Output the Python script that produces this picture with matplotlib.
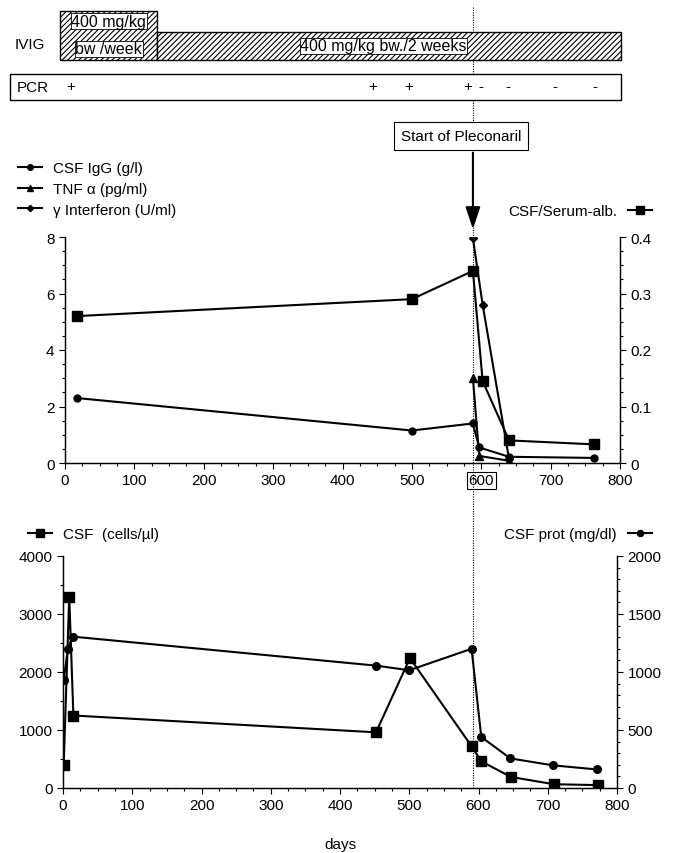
import matplotlib
matplotlib.use('Agg')
import matplotlib.pyplot as plt
from matplotlib.patches import Rectangle, FancyArrowPatch
from matplotlib.lines import Line2D
from matplotlib.ticker import MultipleLocator

plt.rcParams['font.family'] = ['Liberation Sans', 'DejaVu Sans']
plt.rcParams['hatch.linewidth'] = 0.8
plt.rcParams['axes.linewidth'] = 0.9

# ---------------- data ----------------
igg_days = [17, 500, 588, 597, 640, 762]
igg_vals = [2.3, 1.15, 1.4, 0.55, 0.22, 0.18]
tnf_days = [588, 597, 640]
tnf_vals = [3.0, 0.25, 0.08]
ifn_days = [588, 602, 640]
ifn_vals = [7.95, 5.6, 0.15]
alb_days = [17, 500, 588, 602, 640, 762]
alb_vals = [0.26, 0.29, 0.34, 0.145, 0.04, 0.033]

cells_days = [1, 9, 15, 452, 501, 590, 604, 647, 709, 772]
cells_vals = [400, 3300, 1250, 960, 2240, 720, 460, 190, 65, 50]
prot_days = [1, 7, 14, 452, 500, 590, 604, 646, 708, 771]
prot_vals = [930, 1200, 1305, 1055, 1015, 1200, 440, 255, 195, 160]

pcr_days = [8, 443, 495, 580, 600, 638, 706, 764]
pcr_signs = ['+', '+', '+', '+', '-', '-', '-', '-']

ivig_weekly = [-7, 133]
ivig_biweekly = [133, 802]
pleconaril_day = 588

xticks = list(range(0, 801, 100))
xticklabels = [str(v) for v in xticks]

W, H = 673, 854
fig = plt.figure(figsize=(W / 100, H / 100), dpi=100)


def box(l, t, r, b):
    return [l / W, 1 - b / H, (r - l) / W, (b - t) / H]


def fx(px):
    return px / W


def fy(py):
    return 1 - py / H


FS = 11

# ---------------- header (IVIG / PCR) ----------------
ax0 = fig.add_axes(box(65, 0, 620, 110), zorder=3)
ax0.set_xlim(0, 800)
ax0.set_ylim(110, 0)
ax0.axis('off')
ax0.patch.set_alpha(0)

ax0.add_patch(Rectangle((ivig_weekly[0], 12), ivig_weekly[1] - ivig_weekly[0], 49,
                        facecolor='white', edgecolor='black', hatch='//////', lw=1.0, clip_on=False))
ax0.add_patch(Rectangle((ivig_biweekly[0], 33), ivig_biweekly[1] - ivig_biweekly[0], 28,
                        facecolor='white', edgecolor='black', hatch='//////', lw=1.0, clip_on=False))
tb = dict(facecolor='white', edgecolor='black', lw=0.6, pad=0.5)
mid_w = (ivig_weekly[0] + ivig_weekly[1]) / 2
ax0.text(mid_w, 22, '400 mg/kg', ha='center', va='center', fontsize=FS + 0.5, bbox=tb, clip_on=False)
ax0.text(mid_w, 50, 'bw /week', ha='center', va='center', fontsize=FS + 0.5, bbox=tb, clip_on=False)
ax0.text(459, 47, '400 mg/kg bw./2 weeks', ha='center', va='center', fontsize=FS + 0.5, bbox=tb)
ax0.text(-50, 45, 'IVIG', ha='center', va='center', fontsize=FS, clip_on=False)

ax0.add_patch(Rectangle((-80, 75), 882, 26, facecolor='white', edgecolor='black', lw=1.0,
                        clip_on=False))
ax0.text(-47, 88, 'PCR', ha='center', va='center', fontsize=FS, clip_on=False)
for d, s in zip(pcr_days, pcr_signs):
    ax0.text(d, 87, s, ha='center', va='center', fontsize=FS)

# ---------------- top chart ----------------
ax1 = fig.add_axes(box(65, 238, 620, 464))
ax1.set_xlim(0, 800)
ax1.set_ylim(0, 8)
l_igg, = ax1.plot(igg_days, igg_vals, '-o', color='black', lw=1.5, ms=5, label='CSF IgG (g/l)')
l_tnf, = ax1.plot(tnf_days, tnf_vals, '-^', color='black', lw=1.5, ms=5.5, label='TNF \u03b1 (pg/ml)')
l_ifn, = ax1.plot(ifn_days, ifn_vals, '-D', color='black', lw=1.5, ms=4, label='\u03b3 Interferon (U/ml)')
ax1r = ax1.twinx()
ax1r.set_ylim(0, 0.4)
l_alb, = ax1r.plot(alb_days, alb_vals, '-s', color='black', lw=1.5, ms=7, label='CSF/Serum-alb.')

ax1.set_xticks(xticks)
labs = ax1.set_xticklabels(xticklabels)
labs[6].set_bbox(dict(facecolor='none', edgecolor='black', lw=0.8, pad=1.0))
ax1.xaxis.set_minor_locator(MultipleLocator(25))
ax1.yaxis.set_major_locator(MultipleLocator(2))
ax1.yaxis.set_minor_locator(MultipleLocator(0.5))
ax1r.set_yticks([0, 0.1, 0.2, 0.3, 0.4])
ax1r.set_yticklabels(['0', '0.1', '0.2', '0.3', '0.4'])
ax1r.yaxis.set_minor_locator(MultipleLocator(0.025))
for a in (ax1, ax1r):
    a.spines['top'].set_visible(False)
    a.tick_params(which='major', direction='out', length=4, width=0.8, labelsize=FS)
    a.tick_params(which='minor', direction='out', length=2.5, width=0.8)

leg1 = ax1.legend(handles=[l_igg, l_tnf, l_ifn], loc='upper left',
                  bbox_to_anchor=(fx(18), fy(162)), bbox_transform=fig.transFigure,
                  frameon=False, fontsize=FS, handlelength=1.6, handletextpad=0.7,
                  labelspacing=0.45, borderpad=0, borderaxespad=0, markerscale=0.8)
leg2 = ax1r.legend(handles=[l_alb], loc='upper right',
                   bbox_to_anchor=(fx(652), fy(205)), bbox_transform=fig.transFigure,
                   frameon=False, fontsize=FS, handlelength=1.6, handletextpad=0.7,
                   borderpad=0, borderaxespad=0, markerfirst=False, markerscale=0.8)

# ---------------- bottom chart ----------------
ax2 = fig.add_axes(box(63, 557, 617, 789))
ax2.set_xlim(0, 800)
ax2.set_ylim(0, 4000)
l_cells, = ax2.plot(cells_days, cells_vals, '-s', color='black', lw=1.5, ms=7.5, label='CSF  (cells/\u00b5l)')
ax2r = ax2.twinx()
ax2r.set_ylim(0, 2000)
l_prot, = ax2r.plot(prot_days, prot_vals, '-o', color='black', lw=1.5, ms=5.5, label='CSF prot (mg/dl)')
ax2.set_xticks(xticks)
ax2.set_xticklabels(xticklabels)
ax2.xaxis.set_minor_locator(MultipleLocator(25))
ax2.yaxis.set_major_locator(MultipleLocator(1000))
ax2.yaxis.set_minor_locator(MultipleLocator(500))
ax2r.yaxis.set_major_locator(MultipleLocator(500))
ax2r.yaxis.set_minor_locator(MultipleLocator(100))
for a in (ax2, ax2r):
    a.spines['top'].set_visible(False)
    a.tick_params(which='major', direction='out', length=4, width=0.8, labelsize=FS)
    a.tick_params(which='minor', direction='out', length=2.5, width=0.8)
ax2.set_xlabel('days', fontsize=FS, labelpad=18)

ax2.legend(handles=[l_cells], loc='upper left',
           bbox_to_anchor=(fx(28), fy(528)), bbox_transform=fig.transFigure,
           frameon=False, fontsize=FS, handlelength=1.6, handletextpad=0.7,
           borderpad=0, borderaxespad=0, markerscale=0.8)
ax2r.legend(handles=[l_prot], loc='upper right',
            bbox_to_anchor=(fx(652), fy(528)), bbox_transform=fig.transFigure,
            frameon=False, fontsize=FS, handlelength=1.6, handletextpad=0.7,
            borderpad=0, borderaxespad=0, markerfirst=False, markerscale=0.8)

# ---------------- Pleconaril marker ----------------
xline = fig.transFigure.inverted().transform(ax1.transData.transform((pleconaril_day, 0)))[0]
fig.add_artist(Line2D([xline, xline], [fy(8), fy(789)], transform=fig.transFigure,
                      color='black', lw=0.8, ls=(0, (1, 1.2)), zorder=2.5))
fig.text(xline - fx(12), fy(137), 'Start of Pleconaril', ha='center', va='center', fontsize=FS,
         zorder=5, bbox=dict(facecolor='white', edgecolor='black', lw=0.8, pad=5))
fig.add_artist(FancyArrowPatch((xline, fy(151)), (xline, fy(233)), transform=fig.transFigure,
                               arrowstyle='-|>,head_length=0.9,head_width=0.3',
                               mutation_scale=15, color='black', lw=1.5, zorder=5))

fig.savefig('out.png', dpi=100)
